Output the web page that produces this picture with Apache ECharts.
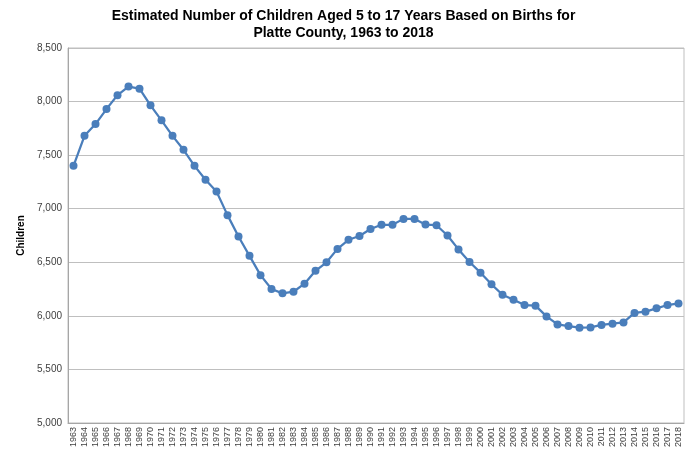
<!DOCTYPE html>
<html>
<head>
<meta charset="utf-8">
<script src="https://cdn.jsdelivr.net/npm/echarts@6/dist/echarts.min.js"></script>
<style>
  html, body { margin: 0; padding: 0; background: #fff; }
  #chart { width: 687px; height: 450px; }
</style>
</head>
<body>
<div id="chart"></div>
<script>
// years 1963..2018
const years = [];
for (let y = 1963; y <= 2018; y++) years.push(String(y));

// estimated children aged 5-17
const children = [
  7400, 7680, 7790, 7930, 8060, 8140, 8120, 7965, 7825, 7680,
  7550, 7400, 7270, 7160, 6940, 6740, 6560, 6380, 6250, 6210,
  6225, 6300, 6420, 6500, 6625, 6710, 6745, 6810, 6850, 6850,
  6905, 6905, 6852, 6846, 6750, 6620, 6503, 6403, 6294, 6197,
  6151, 6101, 6095, 5995, 5920, 5905, 5889, 5892, 5915, 5927,
  5939, 6027, 6039, 6070, 6101, 6116
];

const yTicks = { min: 5000, max: 8500, step: 500 };

const chart = echarts.init(document.getElementById('chart'));
chart.setOption({
  animation: false,
  title: {
    text: 'Estimated Number of Children Aged 5 to 17 Years Based on Births for\nPlatte County, 1963 to 2018',
    left: 'center',
    top: 3,
    textStyle: {
      fontFamily: 'Liberation Sans, Arial, sans-serif',
      fontSize: 14,
      fontWeight: 'bold',
      color: '#000',
      lineHeight: 17
    }
  },
  grid: {
    left: 68, right: 3, top: 48, bottom: 27,
    show: true,
    borderColor: '#bfbfbf',
    borderWidth: 1
  },
  xAxis: {
    type: 'category',
    data: years,
    boundaryGap: true,
    axisLine: { lineStyle: { color: '#a6a6a6' } },
    axisTick: { show: false },
    axisLabel: {
      interval: 0,
      rotate: 90,
      fontSize: 9,
      margin: 4,
      color: '#404040',
      fontFamily: 'Liberation Sans, Arial, sans-serif'
    }
  },
  yAxis: {
    type: 'value',
    min: yTicks.min,
    max: yTicks.max,
    interval: yTicks.step,
    name: 'Children',
    nameLocation: 'middle',
    nameGap: 42,
    nameTextStyle: {
      fontFamily: 'Liberation Sans, Arial, sans-serif',
      fontSize: 10,
      fontWeight: 'bold',
      color: '#000'
    },
    axisLine: { show: true, lineStyle: { color: '#a6a6a6' } },
    axisTick: { show: false },
    splitLine: { lineStyle: { color: '#bfbfbf' } },
    axisLabel: {
      fontSize: 10,
      margin: 6,
      color: '#404040',
      fontFamily: 'Liberation Sans, Arial, sans-serif',
      formatter: v => v.toLocaleString('en-US')
    }
  },
  series: [{
    type: 'line',
    data: children,
    symbol: 'circle',
    symbolSize: 8,
    lineStyle: { color: '#4a7ebb', width: 2.25 },
    itemStyle: { color: '#4a7ebb' }
  }]
});
</script>
</body>
</html>
